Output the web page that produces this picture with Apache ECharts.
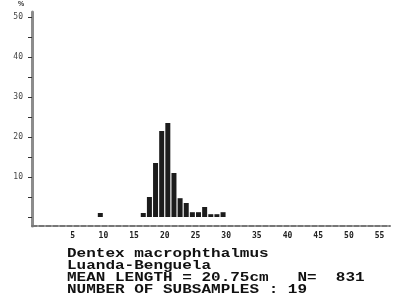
<!DOCTYPE html>
<html>
<head>
<meta charset="utf-8">
<script src="https://cdn.jsdelivr.net/npm/echarts@6/dist/echarts.min.js"></script>
<style>
  html, body { margin: 0; padding: 0; background: #fff; }
  #chart { width: 396px; height: 306px; }
</style>
</head>
<body>
<div id="chart"></div>
<script>
// length classes (cm, left edge) and percent frequency
const lengthClasses = [9, 16, 17, 18, 19, 20, 21, 22, 23, 24, 25, 26, 27, 28, 29];
const percents = [1, 1, 5, 13.5, 21.5, 23.5, 11, 4.7, 3.5, 1.2, 1.2, 2.5, 0.7, 0.7, 1.2];
const xTickLabels = [5, 10, 15, 20, 25, 30, 35, 40, 45, 50, 55];
const yTickLabels = [10, 20, 30, 40, 50];
const yTicks = [0, 5, 10, 15, 20, 25, 30, 35, 40, 45, 50];
const captionLines = [
  "Dentex macrophthalmus",
  "Luanda-Benguela",
  "MEAN LENGTH = 20.75cm   N=  831",
  "NUMBER OF SUBSAMPLES : 19"
];

const chart = echarts.init(document.getElementById("chart"));

chart.setOption({
  animation: false,
  backgroundColor: "#fff",
  grid: { left: 32, right: 6, top: 12, bottom: 80, containLabel: false, outerBoundsMode: "none" },
  xAxis: {
    type: "value",
    min: -1.63,
    max: 56.7,
    splitLine: { show: false },
    axisLine: { show: true, onZero: false, lineStyle: { color: "#777", width: 2, type: [5, 2] } },
    axisTick: { show: false },
    axisLabel: {
      customValues: xTickLabels,
      color: "#222",
      fontSize: 8,
      fontWeight: "bold",
      fontFamily: "DejaVu Sans Mono",
      margin: 6
    }
  },
  yAxis: {
    type: "value",
    min: -2.25,
    max: 51.25,
    splitLine: { show: false },
    axisLine: { show: true, onZero: false, lineStyle: { color: "#8c8c8c", width: 3 } },
    axisTick: {
      show: true,
      customValues: yTicks,
      length: 4,
      lineStyle: { color: "#333", width: 1 }
    },
    axisLabel: {
      customValues: yTickLabels,
      color: "#444",
      fontSize: 8,
      fontFamily: "DejaVu Sans Mono",
      margin: 9
    }
  },
  series: [
    {
      type: "bar",
      data: lengthClasses.map((c, i) => [c + 0.5, percents[i]]),
      barWidth: 5,
      itemStyle: { color: "#1c1c1c" }
    }
  ],
  graphic: [
    {
      type: "text",
      left: 18,
      top: 1,
      style: { text: "%", fontSize: 7, fontWeight: "bold", fill: "#333" }
    },
    {
      type: "text",
      x: 67,
      y: 248,
      scaleY: 0.84,
      style: {
        text: captionLines.join("\n"),
        fontFamily: "Liberation Mono",
        fontWeight: "bold",
        fontSize: 16,
        lineHeight: 14,
        fill: "#111"
      }
    }
  ]
});
</script>
</body>
</html>
